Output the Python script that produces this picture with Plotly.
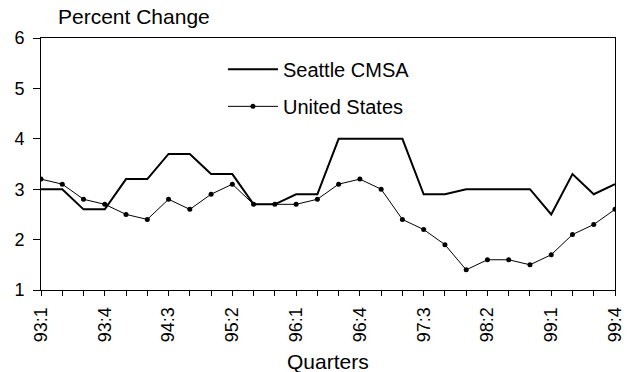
import plotly.graph_objects as go

quarters = [f"{y}:{q}" for y in range(93, 100) for q in range(1, 5)]
seattle = [3.0, 3.0, 2.6, 2.6, 3.2, 3.2, 3.7, 3.7, 3.3, 3.3, 2.7, 2.7, 2.9, 2.9,
           4.0, 4.0, 4.0, 4.0, 2.9, 2.9, 3.0, 3.0, 3.0, 3.0, 2.5, 3.3, 2.9, 3.1]
united_states = [3.2, 3.1, 2.8, 2.7, 2.5, 2.4, 2.8, 2.6, 2.9, 3.1, 2.7, 2.7, 2.7, 2.8,
                 3.1, 3.2, 3.0, 2.4, 2.2, 1.9, 1.4, 1.6, 1.6, 1.5, 1.7, 2.1, 2.3, 2.6]
tick_labels = [q if i % 3 == 0 else "" for i, q in enumerate(quarters)]

font = "Liberation Sans, Arial, sans-serif"

fig = go.Figure()
fig.add_trace(go.Scatter(x=quarters, y=seattle, mode="lines", name="Seattle CMSA",
                         line=dict(color="black", width=2), legendgroup="a"))
fig.add_trace(go.Scatter(x=quarters, y=united_states, mode="lines+markers", name="United States",
                         line=dict(color="black", width=1),
                         marker=dict(color="black", size=5), legendgroup="b"))

fig.update_layout(
    width=637, height=372,
    margin=dict(l=41, r=18, t=38, b=82),
    paper_bgcolor="white", plot_bgcolor="white",
    font=dict(family=font, size=18, color="black"),
    showlegend=True,
    legend=dict(x=0.317, y=0.953, xanchor="left", yanchor="top",
                bgcolor="rgba(0,0,0,0)", tracegroupgap=8, itemwidth=50,
                font=dict(size=20)),
    xaxis=dict(type="category", range=[0, 27], tickmode="array",
               tickvals=quarters, ticktext=tick_labels, tickangle=-90,
               ticks="outside", ticklen=5, tickcolor="black",
               ticklabelstandoff=4, tickfont=dict(size=18),
               showline=True, linecolor="black", linewidth=1, mirror=True,
               showgrid=False, zeroline=False),
    yaxis=dict(range=[1, 6], dtick=1, ticks="outside", ticklen=7, tickcolor="black",
               ticklabelstandoff=5,
               showline=True, linecolor="black", linewidth=1, mirror=True,
               showgrid=False, zeroline=False, tickfont=dict(size=18)),
    annotations=[
        dict(text="Percent Change", xref="paper", yref="paper",
             x=0.026, y=1.085, xanchor="left", yanchor="middle",
             showarrow=False, font=dict(size=21)),
        dict(text="Quarters", xref="paper", yref="paper",
             x=0.5, y=-0.284, xanchor="center", yanchor="middle",
             showarrow=False, font=dict(size=21)),
    ],
)

fig.write_html("out.html", config={"displayModeBar": False},
               post_script="document.body.style.margin='0';")
